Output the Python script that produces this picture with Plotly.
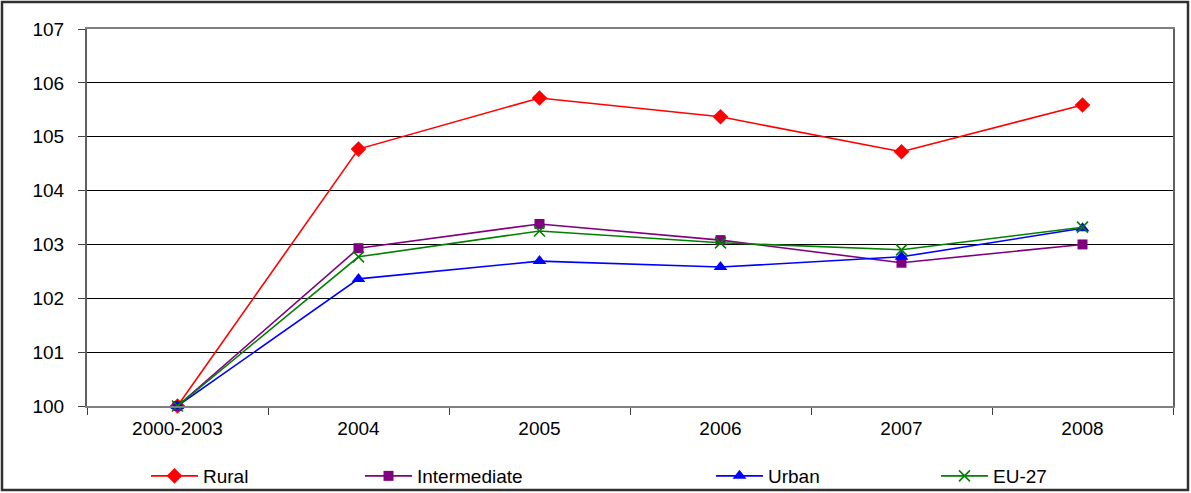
import plotly.graph_objects as go

# Index values (2000-2003 = 100)
categories = ["2000-2003", "2004", "2005", "2006", "2007", "2008"]
rural = [100.0, 104.77, 105.72, 105.37, 104.72, 105.59]
intermediate = [100.0, 102.93, 103.38, 103.08, 102.66, 103.00]
urban = [100.0, 102.36, 102.69, 102.58, 102.77, 103.30]
eu27 = [100.0, 102.77, 103.25, 103.03, 102.90, 103.32]
y_ticks = [100, 101, 102, 103, 104, 105, 106, 107]

W, H = 1191, 493
L, R, T, B = 87, 18, 29, 87
pw, ph = W - L - R, H - T - B


def px_x(x):
    return (x - L) / pw


def px_y(y):
    return (H - B - y) / ph


FONT = "Arial, Liberation Sans, sans-serif"
FS = 19
SYM_W = 47

series = [
    ("Rural", rural, "#FF0000", "diamond", 12, "legend"),
    ("Intermediate", intermediate, "#800080", "square", 10, "legend2"),
    ("Urban", urban, "#0000FF", "triangle-up", 12, "legend3"),
    ("EU-27", eu27, "#008000", "x-thin", 11, "legend4"),
]

fig = go.Figure()
for name, vals, color, sym, size, leg in series:
    marker = dict(symbol=sym, size=size, color=color)
    if sym == "x-thin":
        marker["line"] = dict(color=color, width=1.6)
    fig.add_trace(go.Scatter(
        x=categories, y=vals, name=name, mode="lines+markers",
        line=dict(color=color, width=1.6), marker=marker,
        legend=leg, cliponaxis=False,
    ))

# legend entries laid out along the bottom, positioned in container pixels
legend_text_x = {"legend": 203, "legend2": 417, "legend3": 768, "legend4": 993}
legend_common = dict(
    orientation="h", yanchor="middle", xanchor="left",
    xref="container", yref="container",
    y=(H - 476) / H, font=dict(family=FONT, size=FS, color="black"),
    bgcolor="rgba(0,0,0,0)", itemwidth=SYM_W,
)
legends = {
    k: dict(x=(v - SYM_W - 10) / W, **legend_common)
    for k, v in legend_text_x.items()
}

fig.update_layout(
    width=W, height=H,
    margin=dict(l=L, r=R, t=T, b=B, autoexpand=False),
    paper_bgcolor="white", plot_bgcolor="white",
    font=dict(family=FONT, size=FS, color="black"),
    showlegend=True,
    legend=legends["legend"], legend2=legends["legend2"],
    legend3=legends["legend3"], legend4=legends["legend4"],
    xaxis=dict(
        type="category", range=[-0.5, len(categories) - 0.5],
        showgrid=False, tickson="boundaries",
        ticks="outside", ticklen=7, tickcolor="#404040", tickwidth=1,
        showline=True, linecolor="#808080", linewidth=2, mirror=True,
        tickfont=dict(family=FONT, size=FS, color="black"),
        ticklabelstandoff=4, zeroline=False,
    ),
    yaxis=dict(
        range=[100, 107], tickvals=y_ticks, ticks="outside", ticklen=7,
        tickcolor="#404040", tickwidth=1,
        showgrid=True, gridcolor="black", gridwidth=1,
        showline=True, linecolor="#606060", linewidth=2, mirror=True,
        tickfont=dict(family=FONT, size=FS, color="black"),
        ticklabelstandoff=10, zeroline=False,
    ),
    shapes=[dict(
        type="rect", xref="paper", yref="paper",
        x0=px_x(2), x1=px_x(1188), y0=px_y(490), y1=px_y(2),
        line=dict(color="#303030", width=2.5), fillcolor="rgba(0,0,0,0)",
        layer="below",
    )],
)

fig.write_html("out.html")
